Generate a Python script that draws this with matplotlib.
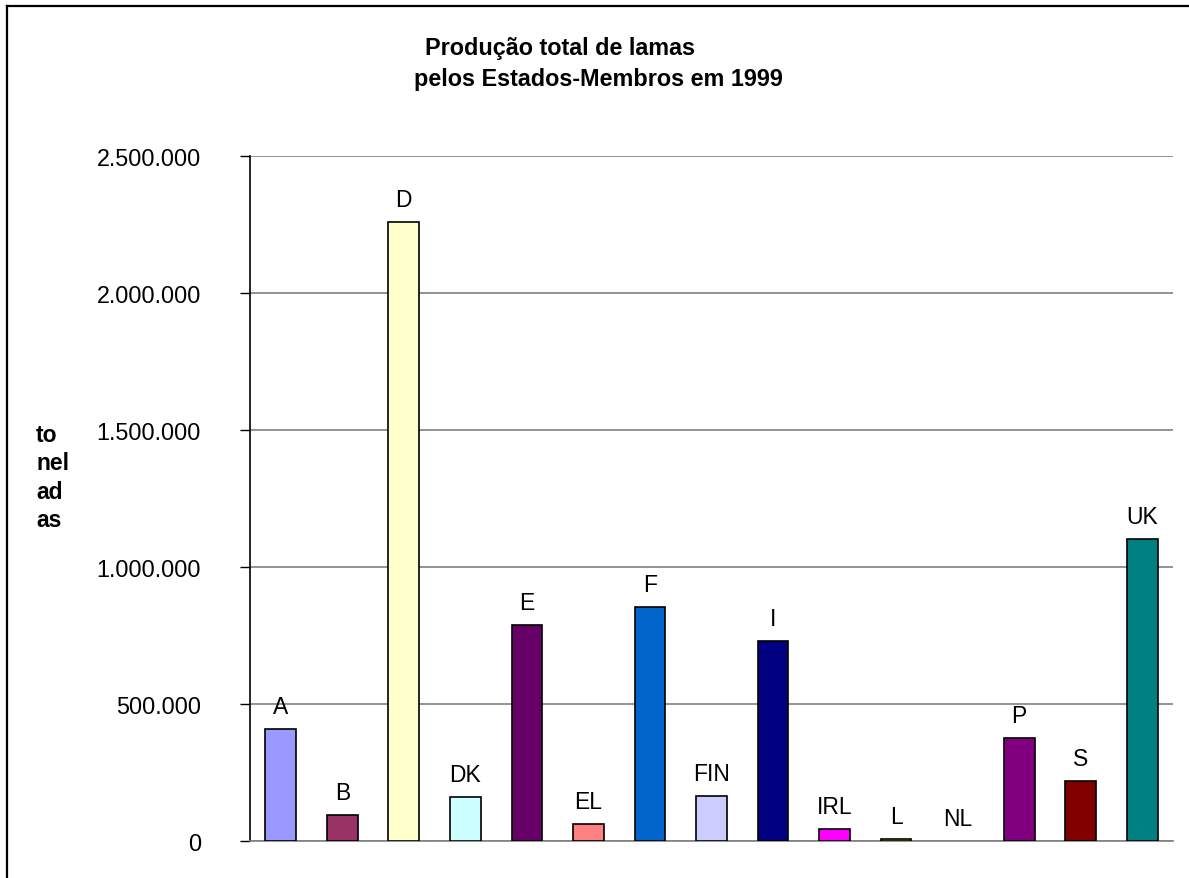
import matplotlib.pyplot as plt
from matplotlib.lines import Line2D
from matplotlib.ticker import FuncFormatter

plt.rcParams['font.family'] = ['Liberation Sans', 'DejaVu Sans']

# Sludge production per member state, 1999 (tonnes)
countries = ['A', 'B', 'D', 'DK', 'E', 'EL', 'F', 'FIN', 'I', 'IRL', 'L', 'NL', 'P', 'S', 'UK']
tonnes = [411000, 96000, 2260000, 160000, 789000, 63000, 856000, 166000,
          732000, 45000, 7000, 0, 377000, 221000, 1103000]
colors = ['#9999FF', '#993366', '#FFFFCC', '#CCFFFF', '#660066', '#FF8080', '#0066CC',
          '#CCCCFF', '#000080', '#FF00FF', '#FFFF00', '#00FFFF', '#800080', '#800000', '#008080']
yticks = [0, 500000, 1000000, 1500000, 2000000, 2500000]

W, H = 1189, 879
fig = plt.figure(figsize=(W / 100, H / 100), dpi=100)
ax = fig.add_axes([250 / W, 1 - 842.3 / H, (1173 - 250) / W, (842.3 - 157.3) / H])

x = list(range(len(countries)))
bars = ax.bar(x, tonnes, width=0.5, color=colors, edgecolor='black', linewidth=1.2, zorder=3)
# empty bars (no data) show no outline
for b, v in zip(bars, tonnes):
    if v == 0:
        b.set_linewidth(0)

# country labels above each bar
for xi, v, name in zip(x, tonnes, countries):
    ax.annotate(name, (xi, v), xytext=(0, 11.5), textcoords='offset points',
                ha='center', va='baseline', fontsize=16.5)

ax.set_xlim(-0.5, len(countries) - 0.5)
ax.set_ylim(0, 2500000)
ax.set_yticks(yticks)
ax.yaxis.set_major_formatter(FuncFormatter(lambda v, p: f'{int(v):,}'.replace(',', '.')))
ax.tick_params(axis='y', direction='out', length=7.2, width=1, labelsize=16.8, pad=28)
ax.tick_params(axis='x', bottom=False, labelbottom=False)
ax.grid(axis='y', color='#808080', linewidth=1.2, zorder=0)

for side in ['top', 'right']:
    ax.spines[side].set_visible(False)
ax.spines['left'].set_color('black')
ax.spines['left'].set_linewidth(1.2)
ax.spines['bottom'].set_color('#808080')
ax.spines['bottom'].set_linewidth(1.2)

# title (two lines, offset like the original)
fig.text(560 / W, 1 - 55 / H, 'Produção total de lamas', ha='center', va='baseline',
         fontsize=16.8, fontweight='bold')
fig.text(598 / W, 1 - 86 / H, 'pelos Estados-Membros em 1999', ha='center', va='baseline',
         fontsize=16.8, fontweight='bold')

# y label broken over lines
fig.text(36 / W, 1 - 478 / H, 'to\nnel\nad\nas', ha='left', va='center',
         fontsize=16.5, fontweight='bold', linespacing=1.3)

# chart area border
fig.add_artist(Line2D([7 / W, 7 / W], [0, 1 - 7 / H], color='black', linewidth=1.6,
                      transform=fig.transFigure))
fig.add_artist(Line2D([7 / W, 1], [1 - 7 / H, 1 - 7 / H], color='black', linewidth=1.6,
                      transform=fig.transFigure))

fig.savefig('out.png', dpi=100)
